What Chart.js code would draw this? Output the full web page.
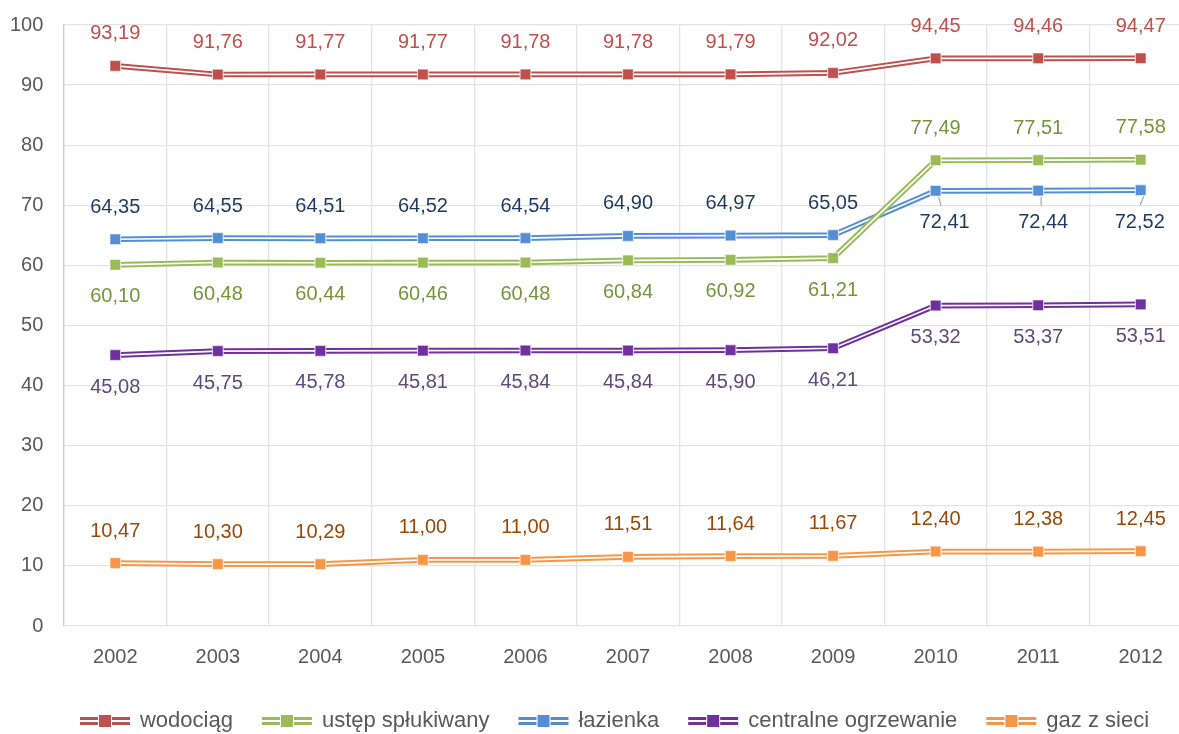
<!DOCTYPE html>
<html>
<head>
<meta charset="utf-8">
<script src="https://cdn.jsdelivr.net/npm/chart.js@4.4.1/dist/chart.umd.min.js"></script>
<style>
  html, body { margin: 0; padding: 0; background: #fff; overflow: hidden; }
  #wrap { width: 1200px; height: 742px; }
</style>
</head>
<body>
<div id="wrap"><canvas id="chart"></canvas></div>
<script>
// data
const years = ['2002', '2003', '2004', '2005', '2006', '2007', '2008', '2009', '2010', '2011', '2012'];
const wodociag = [93.19, 91.76, 91.77, 91.77, 91.78, 91.78, 91.79, 92.02, 94.45, 94.46, 94.47];
const ustep = [60.10, 60.48, 60.44, 60.46, 60.48, 60.84, 60.92, 61.21, 77.49, 77.51, 77.58];
const lazienka = [64.35, 64.55, 64.51, 64.52, 64.54, 64.90, 64.97, 65.05, 72.41, 72.44, 72.52];
const centralne = [45.08, 45.75, 45.78, 45.81, 45.84, 45.84, 45.90, 46.21, 53.32, 53.37, 53.51];
const gaz = [10.47, 10.30, 10.29, 11.00, 11.00, 11.51, 11.64, 11.67, 12.40, 12.38, 12.45];

const FONT = '"Liberation Sans", Arial, sans-serif';

// u = label above, d = label below the point
const series = [
    { label: 'wodociąg', data: wodociag, color: '#c0504d', text: '#c0504d', pos: 'uuuuuuuuuuu' },
    { label: 'ustęp spłukiwany', data: ustep, color: '#9bbb59', text: '#77933c', pos: 'dddddddduuu' },
    { label: 'łazienka', data: lazienka, color: '#558ed5', text: '#1f3a5f', pos: 'uuuuuuuuddd' },
    { label: 'centralne ogrzewanie', data: centralne, color: '#7030a0', text: '#604a7b', pos: 'ddddddddddd' },
    { label: 'gaz z sieci', data: gaz, color: '#f79646', text: '#984807', pos: 'uuuuuuuuuuu' },
];

const fmt = v => v.toFixed(2).replace('.', ',');

// legend symbol: double line with a square, drawn with some empty room on the left
function legendIcon(color){
    const c = document.createElement('canvas');
    c.width = 70; c.height = 14;
    const g = c.getContext('2d');
    g.fillStyle = color;
    g.fillRect(14, 3, 50, 3);
    g.fillRect(14, 8, 50, 3);
    g.fillStyle = '#fff';
    g.fillRect(32, 0, 14, 14);
    g.fillStyle = color;
    g.fillRect(33, 1, 12, 12);
    return c;
}

const doubleLine = {
    id: 'doubleLine',
    afterDatasetDraw(chart, args){
        const ctx = chart.ctx;
        const pts = args.meta.data;
        ctx.save();
        ctx.strokeStyle = '#fff';
        ctx.lineWidth = 1.7;
        ctx.beginPath();
        pts.forEach((p, i) => i ? ctx.lineTo(p.x, p.y) : ctx.moveTo(p.x, p.y));
        ctx.stroke();
        ctx.restore();
        pts.forEach(p => p.draw(ctx, chart.chartArea));
    }
};

const valueLabels = {
    id: 'valueLabels',
    afterDatasetsDraw(chart){
        const ctx = chart.ctx;
        ctx.save();
        ctx.font = '20px ' + FONT;
        ctx.textAlign = 'center';
        ctx.textBaseline = 'middle';
        series.forEach((s, di) => {
            const pts = chart.getDatasetMeta(di).data;
            pts.forEach((p, i) => {
                const up = s.pos[i] === 'u';
                let x = p.x, y = up ? p.y - 32 : p.y + 32;
                if (di === 2 && i >= 8) {
                    // short leader line like in the original
                    const dx = [9, 5, -1][i - 8];
                    x += dx;
                    ctx.strokeStyle = '#a6a6a6';
                    ctx.lineWidth = 1.2;
                    ctx.beginPath();
                    ctx.moveTo(p.x + 3, p.y + 6);
                    ctx.lineTo(p.x + dx * 0.6, p.y + 15);
                    ctx.stroke();
                }
                ctx.fillStyle = s.text;
                ctx.fillText(fmt(s.data[i]), x, y);
            });
        });
        ctx.restore();
    }
};

new Chart(document.getElementById('chart'), {
    type: 'line',
    data: {
        labels: years,
        datasets: series.map(s => ({
            label: s.label,
            data: s.data,
            borderColor: s.color,
            backgroundColor: s.color,
            borderWidth: 5.7,
            tension: 0,
            pointStyle: 'rect',
            pointRadius: 7.5,
            pointBorderWidth: 1,
            pointBorderColor: 'rgba(255,255,255,0.6)',
            pointBackgroundColor: s.color,
            icon: legendIcon(s.color)
        }))
    },
    options: {
        responsive: true,
        maintainAspectRatio: false,
        animation: false,
        layout: { autoPadding: false, padding: { top: 25, right: 8, left: 30, bottom: 0 } },
        scales: {
            x: {
                offset: true,
                grid: { color: '#e3e3e3', lineWidth: 1.3, drawTicks: false, offset: true },
                border: { display: false },
                ticks: { color: '#595959', font: { family: FONT, size: 20 }, padding: 19 }
            },
            y: {
                min: 0, max: 100,
                grid: { color: '#e3e3e3', lineWidth: 1.3, drawTicks: false },
                border: { color: '#d0d0d0', width: 1.3 },
                // mirrored labels pushed back to the left of the axis
                ticks: { stepSize: 10, color: '#595959', font: { family: FONT, size: 20 },
                         mirror: true, crossAlign: 'far', padding: -54 },
                afterFit(scale){ scale.width = 34; }
            }
        },
        plugins: {
            tooltip: { enabled: false },
            legend: {
                position: 'bottom',
                labels: {
                    usePointStyle: true,
                    pointStyleWidth: 56,
                    padding: 22,
                    color: '#595959',
                    font: { family: FONT, size: 22 },
                    generateLabels(chart){
                        return Chart.defaults.plugins.legend.labels.generateLabels(chart).map(l => {
                            l.pointStyle = chart.data.datasets[l.datasetIndex].icon;
                            return l;
                        });
                    }
                }
            }
        }
    },
    plugins: [doubleLine, valueLabels]
});
</script>
</body>
</html>
